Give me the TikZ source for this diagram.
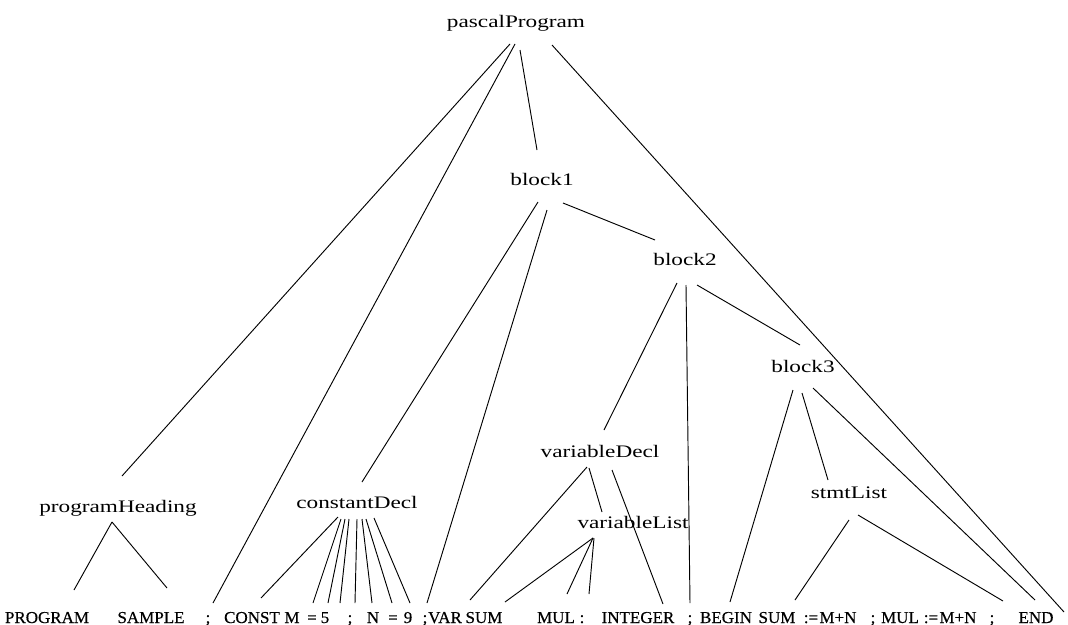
\documentclass[tikz,border=0pt]{standalone}
\usepackage{fontspec}
\usetikzlibrary{calc}
\newfontfamily\lblfam[FakeStretch=1.32]{Liberation Serif}
\newfontfamily\tokfam[FakeStretch=1.02, FakeBold=0.4]{Liberation Serif}
\tikzset{
  lbl/.style={anchor=base, inner sep=0pt, font=\lblfam\fontsize{13.2}{15}\selectfont},
  tok/.style={anchor=base, inner sep=0pt, font=\tokfam\fontsize{12.5}{14}\selectfont},
  branch/.style={draw=black, line width=0.7pt}
}
\begin{document}
\begin{tikzpicture}[x=0.75pt, y=-0.75pt]
\useasboundingbox (0,0) rectangle (1068,625);

% grammar symbols
\node[lbl] (pp) at (516,27)  {pascalProgram};
\node[lbl] (b1) at (542,185) {block1};
\node[lbl] (b2) at (685,265) {block2};
\node[lbl] (b3) at (803,372) {block3};
\node[lbl] (ph) at (118,512) {programHeading};
\node[lbl] (cd) at (357,508) {constantDecl};
\node[lbl] (vd) at (600,457) {variableDecl};
\node[lbl] (vl) at (633,528) {variableList};
\node[lbl] (sl) at (849,498) {stmtList};

% source tokens
\node[tok] (tProgram) at (47,623)  {PROGRAM};
\node[tok] (tSample)  at (151,623) {SAMPLE};
\node[tok] (tSemiA)   at (208,623) {;};
\node[tok] (tConst)   at (252,623) {CONST};
\node[tok] (tM)       at (292,623) {M};
\node[tok] (tEqA)     at (312,623) {=};
\node[tok] (tFive)    at (325,623) {5};
\node[tok] (tSemiB)   at (350,623) {;};
\node[tok] (tN)       at (373,623) {N};
\node[tok] (tEqB)     at (393,623) {=};
\node[tok] (tNine)    at (408,623) {9};
\node[tok] (tSemiC)   at (425,623) {;};
\node[tok] (tVar)     at (445,623) {VAR};
\node[tok] (tSum)     at (484,623) {SUM};
\node[tok] (tMul)     at (556,623) {MUL};
\node[tok] (tColon)   at (582,623) {:};
\node[tok] (tInteger) at (638,623) {INTEGER};
\node[tok] (tSemiD)   at (690,623) {;};
\node[tok] (tBegin)   at (726,623) {BEGIN};
\node[tok] (tSumB)    at (777,623) {SUM};
\node[tok] (tAsgA)    at (811,623) {:=};
\node[tok] (tMNA)     at (838,623) {M+N};
\node[tok] (tSemiE)   at (873,623) {;};
\node[tok] (tMulB)    at (900,623) {MUL};
\node[tok] (tAsgB)    at (931,623) {:=};
\node[tok] (tMNB)     at (958,623) {M+N};
\node[tok] (tSemiF)   at (992,623) {;};
\node[tok] (tEnd)     at (1036,623) {END};

% pascalProgram
\draw[branch] ($(pp.base)+(-6,17)$) -- ($(ph.base)+(4,-36)$);
\draw[branch] ($(pp.base)+(-1,17)$) -- ($(tSemiA.base)+(5,-20)$);
\draw[branch] ($(pp.base)+(4,23)$)  -- ($(b1.base)+(-5,-35)$);
\draw[branch] ($(pp.base)+(36,18)$) -- ($(tEnd.base)+(28,-11)$);

% block1
\draw[branch] ($(b1.base)+(-4,17)$) -- ($(cd.base)+(5,-26)$);
\draw[branch] ($(b1.base)+(5,25)$)  -- ($(tSemiC.base)+(2,-20)$);
\draw[branch] ($(b1.base)+(21,18)$) -- ($(b2.base)+(-30,-25)$);

% block2
\draw[branch] ($(b2.base)+(-8,18)$) -- ($(vd.base)+(4,-27)$);
\draw[branch] ($(b2.base)+(1,20)$)  -- ($(tSemiD.base)+(0,-20)$);
\draw[branch] ($(b2.base)+(12,20)$) -- ($(b3.base)+(-3,-27)$);

% block3
\draw[branch] ($(b3.base)+(-10,18)$) -- ($(tBegin.base)+(4,-21)$);
\draw[branch] ($(b3.base)+(-1,21)$)  -- ($(sl.base)+(-21,-18)$);
\draw[branch] ($(b3.base)+(10,16)$)  -- ($(tEnd.base)+(-1,-23)$);

% stmtList
\draw[branch] ($(sl.base)+(0,22)$) -- ($(tSumB.base)+(18,-23)$);
\draw[branch] ($(sl.base)+(9,17)$) -- ($(tSemiF.base)+(11,-22)$);

% programHeading
\draw[branch] ($(ph.base)+(-6,10)$) -- ($(tProgram.base)+(27,-33)$);
\draw[branch] ($(ph.base)+(-6,10)$) -- ($(tSample.base)+(16,-35)$);

% constantDecl
\draw[branch] ($(cd.base)+(-19,9)$)  -- ($(tConst.base)+(9,-25)$);
\draw[branch] ($(cd.base)+(-16,11)$) -- ($(tM.base)+(21,-20)$);
\draw[branch] ($(cd.base)+(-12,11)$) -- ($(tEqA.base)+(16,-20)$);
\draw[branch] ($(cd.base)+(-8,11)$)  -- ($(tFive.base)+(15,-20)$);
\draw[branch] ($(cd.base)+(0,11)$)   -- ($(tSemiB.base)+(5,-20)$);
\draw[branch] ($(cd.base)+(5,11)$)   -- ($(tN.base)+(-1,-20)$);
\draw[branch] ($(cd.base)+(9,11)$)   -- ($(tEqB.base)+(-1,-20)$);
\draw[branch] ($(cd.base)+(17,10)$)  -- ($(tNine.base)+(2,-20)$);

% variableDecl
\draw[branch] ($(vd.base)+(-13,10)$) -- ($(tVar.base)+(25,-23)$);
\draw[branch] ($(vd.base)+(-11,11)$) -- ($(vl.base)+(-31,-16)$);
\draw[branch] ($(vd.base)+(12,13)$)  -- ($(tInteger.base)+(25,-19)$);

% variableList
\draw[branch] ($(vl.base)+(-40,10)$) -- ($(tSum.base)+(21,-21)$);
\draw[branch] ($(vl.base)+(-40,10)$) -- ($(tMul.base)+(11,-29)$);
\draw[branch] ($(vl.base)+(-39,10)$) -- ($(tColon.base)+(7,-29)$);
\end{tikzpicture}
\end{document}
